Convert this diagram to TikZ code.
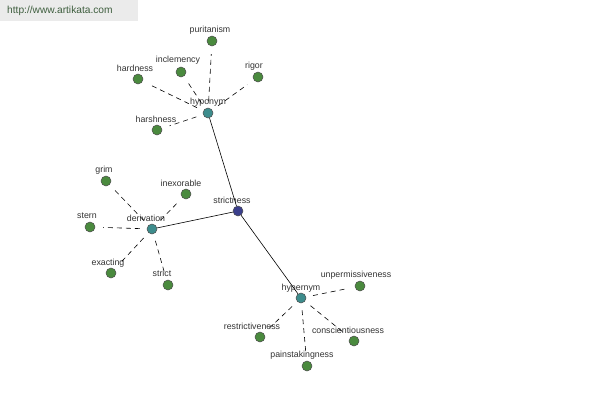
\documentclass[tikz,border=0pt]{standalone}
\usepackage{fontspec}
\setmainfont{Liberation Sans}
\definecolor{leafg}{HTML}{4A8A3E}
\definecolor{hubt}{HTML}{3D8C8C}
\definecolor{rootb}{HTML}{3B3F8C}
\definecolor{wmbg}{HTML}{EBEBEB}
\definecolor{wmtx}{HTML}{3E5E3E}
\definecolor{lbl}{HTML}{333333}
\begin{document}
\begin{tikzpicture}[x=1pt,y=-1pt,
  leaf/.style={circle,draw=black!70,fill=leafg,minimum size=10pt,inner sep=0pt,line width=0.5pt},
  hub/.style={circle,draw=black!70,fill=hubt,minimum size=10pt,inner sep=0pt,line width=0.5pt},
  root/.style={circle,draw=black!70,fill=rootb,minimum size=10pt,inner sep=0pt,line width=0.5pt},
  lab/.style={font=\fontsize{8.8}{9}\selectfont,text=lbl,inner sep=0pt},
  dl/.style={dash pattern=on 5pt off 4pt,line width=0.6pt,shorten <=7pt,shorten >=8pt},
  sl/.style={line width=0.6pt}]
\useasboundingbox (0,0) rectangle (600,400);
\fill[white] (0,0) rectangle (600,400);
\fill[wmbg] (0,0) rectangle (138,21);
\node[font=\fontsize{10.2}{11}\selectfont,text=wmtx,anchor=west,inner sep=0pt] (wm) at (7,11) {http://www.artikata.com};
% nodes
\node[root] (st) at (238,211) {};
\node[hub] (hypo) at (208,113) {};
\node[hub] (der) at (152,229) {};
\node[hub] (hyper) at (301,298) {};
\node[leaf] (pur) at (212,41) {};
\node[leaf] (inc) at (181,72) {};
\node[leaf] (har) at (138,79) {};
\node[leaf] (rig) at (258,77) {};
\node[leaf] (hsh) at (157,130) {};
\node[leaf] (grim) at (106,181) {};
\node[leaf] (inex) at (186,194) {};
\node[leaf] (stern) at (90,227) {};
\node[leaf] (exa) at (111,273) {};
\node[leaf] (stri) at (168,285) {};
\node[leaf] (unp) at (360,286) {};
\node[leaf] (res) at (260,337) {};
\node[leaf] (con) at (354,341) {};
\node[leaf] (pai) at (307,366) {};
% labels
\node[lab] (lst) at (232,200) {strictness};
\node[lab] (lhypo) at (208,102) {hyponym};
\node[lab] (lder) at (146,218) {derivation};
\node[lab] (lhyper) at (301,288) {hypernym};
\node[lab] (lpur) at (210,30) {puritanism};
\node[lab] (linc) at (178,60) {inclemency};
\node[lab] (lhar) at (135,68) {hardness};
\node[lab] (lrig) at (254,66) {rigor};
\node[lab] (lhsh) at (156,119) {harshness};
\node[lab] (lgrim) at (104,170) {grim};
\node[lab] (linex) at (181,183) {inexorable};
\node[lab] (lstern) at (87,216) {stern};
\node[lab] (lexa) at (108,263) {exacting};
\node[lab] (lstri) at (162,273) {strict};
\node[lab] (lunp) at (356,275) {unpermissiveness};
\node[lab] (lres) at (252,326) {restrictiveness};
\node[lab] (lcon) at (348,330) {conscientiousness};
\node[lab] (lpai) at (302,355) {painstakingness};
% edges
\draw[sl] (st) -- (hypo);
\draw[sl] (st) -- (der);
\draw[sl] (st) -- (hyper);
\foreach \a in {pur,inc,har,rig,hsh} \draw[dl] (hypo) -- (\a);
\foreach \a in {grim,inex,stern,exa,stri} \draw[dl] (der) -- (\a);
\foreach \a in {unp,res,con,pai} \draw[dl] (hyper) -- (\a);
\end{tikzpicture}
\end{document}
